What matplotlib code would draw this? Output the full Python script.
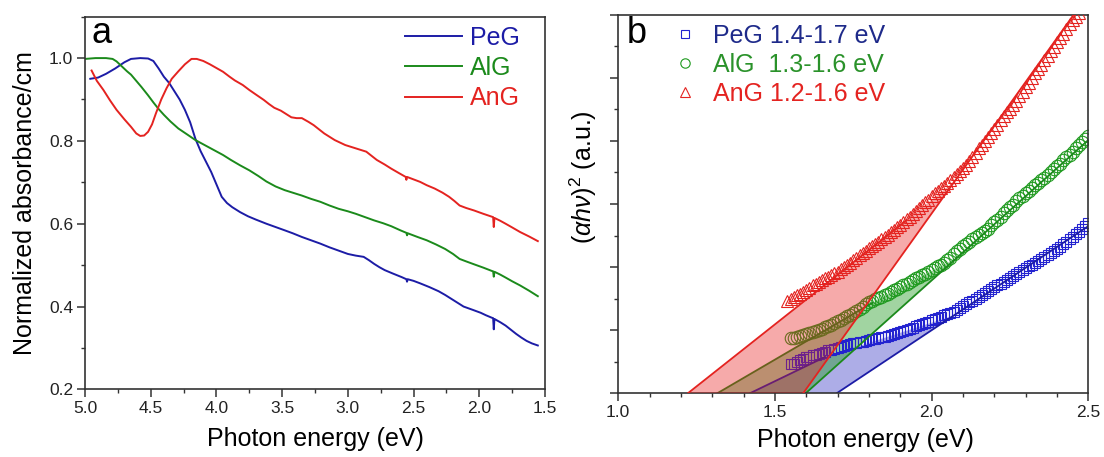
import numpy as np
import matplotlib
matplotlib.use("Agg")
import matplotlib.pyplot as plt
from matplotlib.ticker import MultipleLocator

plt.rcParams['font.family'] = ['Liberation Sans', 'DejaVu Sans']
plt.rcParams['mathtext.fontset'] = 'custom'
plt.rcParams['mathtext.rm'] = 'Liberation Sans'
plt.rcParams['mathtext.it'] = 'Liberation Sans:italic'

# ---------------- panel a: normalized absorbance ----------------
peg_e = [4.96, 4.90, 4.84, 4.77, 4.70, 4.65, 4.58, 4.52, 4.48, 4.44, 4.40, 4.36, 4.32, 4.28,
         4.24, 4.20, 4.16, 4.12, 4.08, 4.04, 4.00, 3.96, 3.92, 3.88, 3.82, 3.76, 3.70, 3.62,
         3.55, 3.48, 3.42, 3.35, 3.28, 3.21, 3.14, 3.07, 3.00, 2.94, 2.88, 2.84, 2.80, 2.76,
         2.72, 2.66, 2.59, 2.555, 2.55, 2.545, 2.50, 2.45, 2.38, 2.31, 2.26, 2.21, 2.17, 2.12,
         2.05, 1.99, 1.95, 1.905, 1.895, 1.89, 1.885, 1.84, 1.80, 1.76, 1.72, 1.68, 1.64, 1.60,
         1.555]
peg_a = [0.950, 0.953, 0.962, 0.975, 0.990, 0.998, 1.000, 0.999, 0.993, 0.975, 0.955, 0.940,
         0.920, 0.900, 0.875, 0.845, 0.805, 0.775, 0.750, 0.725, 0.695, 0.665, 0.650, 0.640,
         0.628, 0.618, 0.610, 0.600, 0.592, 0.584, 0.577, 0.568, 0.560, 0.552, 0.543, 0.535,
         0.527, 0.523, 0.520, 0.512, 0.503, 0.495, 0.488, 0.480, 0.471, 0.466, 0.460, 0.466,
         0.462, 0.456, 0.447, 0.437, 0.428, 0.418, 0.410, 0.400, 0.392, 0.385, 0.379, 0.373,
         0.372, 0.345, 0.370, 0.362, 0.354, 0.344, 0.334, 0.325, 0.317, 0.311, 0.306]

alg_e = [5.00, 4.92, 4.84, 4.79, 4.76, 4.72, 4.68, 4.65, 4.61, 4.57, 4.52, 4.48, 4.44, 4.40,
         4.35, 4.29, 4.22, 4.16, 4.09, 4.02, 3.95, 3.89, 3.82, 3.75, 3.68, 3.62, 3.55, 3.48,
         3.42, 3.35, 3.28, 3.21, 3.14, 3.07, 3.00, 2.94, 2.87, 2.80, 2.73, 2.67, 2.60, 2.555,
         2.55, 2.545, 2.47, 2.40, 2.33, 2.26, 2.20, 2.15, 2.10, 2.04, 1.97, 1.905, 1.895, 1.89,
         1.885, 1.84, 1.80, 1.75, 1.69, 1.62, 1.555]
alg_a = [0.998, 1.000, 1.000, 0.998, 0.992, 0.980, 0.968, 0.960, 0.945, 0.930, 0.910, 0.893,
         0.877, 0.863, 0.847, 0.830, 0.815, 0.802, 0.790, 0.778, 0.766, 0.754, 0.741, 0.729,
         0.715, 0.702, 0.690, 0.681, 0.675, 0.668, 0.660, 0.653, 0.644, 0.636, 0.630, 0.624,
         0.616, 0.608, 0.601, 0.594, 0.584, 0.578, 0.572, 0.577, 0.568, 0.560, 0.550, 0.539,
         0.527, 0.515, 0.509, 0.502, 0.494, 0.486, 0.485, 0.472, 0.484, 0.477, 0.470, 0.461,
         0.451, 0.438, 0.425]

ang_e = [4.95, 4.91, 4.86, 4.81, 4.76, 4.70, 4.65, 4.61, 4.58, 4.55, 4.52, 4.49, 4.46, 4.42,
         4.38, 4.34, 4.29, 4.24, 4.19, 4.15, 4.10, 4.05, 4.00, 3.95, 3.90, 3.86, 3.80, 3.75,
         3.70, 3.64, 3.60, 3.56, 3.51, 3.47, 3.43, 3.39, 3.35, 3.30, 3.26, 3.22, 3.18, 3.14,
         3.10, 3.06, 3.02, 2.98, 2.94, 2.90, 2.86, 2.82, 2.78, 2.72, 2.67, 2.61, 2.56, 2.555,
         2.55, 2.50, 2.45, 2.40, 2.34, 2.28, 2.23, 2.19, 2.15, 2.10, 2.04, 1.97, 1.905, 1.895,
         1.89, 1.885, 1.84, 1.80, 1.75, 1.69, 1.62, 1.555]
ang_a = [0.970, 0.945, 0.923, 0.898, 0.875, 0.852, 0.834, 0.818, 0.812, 0.813, 0.822, 0.840,
         0.867, 0.900, 0.927, 0.950, 0.968, 0.985, 0.998, 0.998, 0.993, 0.985, 0.976, 0.967,
         0.955, 0.946, 0.935, 0.923, 0.912, 0.899, 0.889, 0.880, 0.873, 0.865, 0.857, 0.855,
         0.855, 0.846, 0.838, 0.828, 0.818, 0.810, 0.802, 0.796, 0.790, 0.786, 0.782, 0.778,
         0.774, 0.764, 0.754, 0.743, 0.733, 0.722, 0.713, 0.706, 0.713, 0.707, 0.701, 0.693,
         0.685, 0.675, 0.665, 0.655, 0.644, 0.638, 0.632, 0.624, 0.617, 0.616, 0.592, 0.614,
         0.607, 0.600, 0.591, 0.580, 0.569, 0.558]

# ---------------- panel b: Tauc plot ----------------
red_x = np.round(np.arange(1.54, 2.475, 0.01), 2)
red_y = [1.47, 1.50, 1.53, 1.55, 1.58, 1.61, 1.64, 1.67, 1.71, 1.74, 1.77, 1.80, 1.82, 1.85,
         1.88, 1.90, 1.93, 1.97, 2.00, 2.04, 2.07, 2.11, 2.15, 2.19, 2.22, 2.26, 2.30, 2.33,
         2.37, 2.40, 2.44, 2.47, 2.51, 2.55, 2.59, 2.63, 2.67, 2.71, 2.76, 2.80, 2.84, 2.89,
         2.93, 2.98, 3.03, 3.07, 3.12, 3.17, 3.21, 3.25, 3.29, 3.34, 3.38, 3.43, 3.48, 3.52,
         3.57, 3.62, 3.68, 3.75, 3.81, 3.88, 3.94, 4.00, 4.06, 4.12, 4.19, 4.26, 4.33, 4.40,
         4.46, 4.51, 4.57, 4.64, 4.71, 4.78, 4.85, 4.92, 4.99, 5.07, 5.14, 5.21, 5.28, 5.35,
         5.42, 5.49, 5.56, 5.63, 5.70, 5.78, 5.85, 5.91, 5.97, 6.03]

grn_x = np.round(np.arange(1.55, 2.505, 0.01), 2)
grn_y = [0.87, 0.88, 0.89, 0.905, 0.92, 0.935, 0.95, 0.965, 0.98, 1.00, 1.02, 1.045, 1.07,
         1.09, 1.115, 1.14, 1.165, 1.19, 1.22, 1.245, 1.27, 1.30, 1.34, 1.37, 1.41, 1.44, 1.47,
         1.49, 1.51, 1.53, 1.55, 1.57, 1.60, 1.63, 1.66, 1.68, 1.71, 1.74, 1.77, 1.79, 1.82,
         1.84, 1.87, 1.89, 1.92, 1.95, 1.98, 2.01, 2.04, 2.07, 2.11, 2.15, 2.20, 2.25, 2.29,
         2.33, 2.37, 2.40, 2.44, 2.47, 2.51, 2.54, 2.58, 2.61, 2.66, 2.71, 2.75, 2.80, 2.85,
         2.90, 2.95, 2.99, 3.04, 3.09, 3.13, 3.17, 3.21, 3.26, 3.30, 3.34, 3.38, 3.42, 3.46,
         3.51, 3.55, 3.60, 3.64, 3.69, 3.74, 3.78, 3.83, 3.88, 3.93, 3.98, 4.03, 4.08]

blu_x = np.round(np.arange(1.55, 2.505, 0.01), 2)
blu_y = [0.46, 0.47, 0.49, 0.52, 0.55, 0.57, 0.58, 0.60, 0.61, 0.63, 0.645, 0.66, 0.68, 0.69,
         0.70, 0.715, 0.73, 0.745, 0.76, 0.775, 0.79, 0.80, 0.81, 0.82, 0.835, 0.845, 0.855,
         0.865, 0.875, 0.885, 0.895, 0.905, 0.92, 0.935, 0.95, 0.965, 0.98, 1.00, 1.02, 1.04,
         1.06, 1.075, 1.095, 1.115, 1.135, 1.155, 1.175, 1.195, 1.215, 1.235, 1.255, 1.275,
         1.295, 1.32, 1.35, 1.38, 1.41, 1.44, 1.47, 1.50, 1.53, 1.56, 1.59, 1.62, 1.65, 1.68,
         1.71, 1.74, 1.77, 1.80, 1.83, 1.86, 1.89, 1.92, 1.95, 1.98, 2.01, 2.04, 2.07, 2.10,
         2.13, 2.16, 2.19, 2.22, 2.25, 2.29, 2.32, 2.36, 2.40, 2.44, 2.48, 2.52, 2.56, 2.60,
         2.65, 2.70]

# linear fits: (intercept, slope, end of fitted segment)
red_fit_lo = (1.222, 3.93, 1.92)
red_fit_hi = (1.590, 6.95, 2.455)
grn_fit_lo = (1.316, 2.90, 1.81)
grn_fit_hi = (1.598, 4.45, 2.50)
blu_fit_lo = (1.420, 2.40, 1.66)
blu_fit_hi = (1.697, 3.30, 2.50)
red_meet, grn_meet, blu_meet = 2.075, 2.08, 2.07

c_blue = '#1c1ca6'
c_green = '#1b8a1b'
c_red = '#e42320'
c_mblue = '#2323d0'
c_mgreen = '#1f9a1f'

fig = plt.figure(figsize=(11.04, 4.57), dpi=100)
ax1 = fig.add_axes([0.077, 0.148, 0.4167, 0.8155])
ax2 = fig.add_axes([0.560, 0.1394, 0.4258, 0.8284])

for ax in (ax1, ax2):
    for sp in ax.spines.values():
        sp.set_linewidth(1.2)
        sp.set_color('#333333')
    ax.tick_params(which='major', direction='out', length=5.5, width=1.1, color='#333333',
                   labelsize=12.5, pad=3, top=False, right=False, labelcolor='#222222')
    ax.tick_params(which='minor', direction='out', length=3, width=1.0, color='#333333',
                   top=False, right=False)

ax1.plot(peg_e, peg_a, color=c_blue, lw=1.4, label='PeG')
ax1.plot(alg_e, alg_a, color=c_green, lw=1.4, label='AlG')
ax1.plot(ang_e, ang_a, color=c_red, lw=1.4, label='AnG')
ax1.set_xlim(5.0, 1.5)
ax1.set_ylim(0.2, 1.1)
ax1.xaxis.set_major_locator(MultipleLocator(0.5))
ax1.xaxis.set_minor_locator(MultipleLocator(0.25))
ax1.yaxis.set_major_locator(MultipleLocator(0.2))
ax1.yaxis.set_minor_locator(MultipleLocator(0.1))
ax1.set_xlabel('Photon energy (eV)', fontsize=18)
ax1.set_ylabel('Normalized absorbance/cm', fontsize=18)
ax1.xaxis.set_label_coords(0.5, -0.1)
ax1.yaxis.set_label_coords(-0.105, 0.5)
leg1 = ax1.legend(loc='upper left', bbox_to_anchor=(0.695, 0.975), frameon=False, fontsize=18,
                  handlelength=2.3, handletextpad=0.3, labelspacing=0.25, borderpad=0,
                  borderaxespad=0)
for t, c in zip(leg1.get_texts(), [c_blue, c_green, c_red]):
    t.set_color(c)
ax1.text(0.015, 0.929, 'a', transform=ax1.transAxes, fontsize=26, va='baseline')

# panel b
def fit_line(fit):
    e0, s, x_end = fit
    return [e0, x_end], [0.0, s * (x_end - e0)]

def fill_poly(lo, hi, meet):
    e1, s1, x1 = lo
    e2, s2, _ = hi
    xs = [e1, x1, meet, e2]
    ys = [0.0, s1 * (x1 - e1), s2 * (meet - e2), 0.0]
    return xs, ys

for lo, hi, meet, col, a, z in [(blu_fit_lo, blu_fit_hi, blu_meet, '#2828c0', 0.38, 1),
                                (grn_fit_lo, grn_fit_hi, grn_meet, '#1f9a1f', 0.42, 1.2)]:
    px, py = fill_poly(lo, hi, meet)
    ax2.fill(px, py, color=col, alpha=a, lw=0, zorder=z)

ax2.plot(blu_x, blu_y, ls='none', marker='s', ms=7.5, mfc='none', mec=c_mblue, mew=0.8,
         zorder=2, label='PeG 1.4-1.7 eV')
ax2.plot(grn_x, grn_y, ls='none', marker='o', ms=9, mfc='none', mec=c_mgreen, mew=0.8,
         zorder=2, label='AlG  1.3-1.6 eV')
for fit, col in [(blu_fit_lo, c_blue), (blu_fit_hi, c_blue), (grn_fit_lo, c_green),
                 (grn_fit_hi, c_green)]:
    lx, ly = fit_line(fit)
    ax2.plot(lx, ly, color=col, lw=1.3, zorder=2.5)

px, py = fill_poly(red_fit_lo, red_fit_hi, red_meet)
ax2.fill(px, py, color='#e82020', alpha=0.38, lw=0, zorder=3)
ax2.plot(red_x, red_y, ls='none', marker='^', ms=9, mfc='none', mec=c_red, mew=0.8,
         zorder=4, label='AnG 1.2-1.6 eV')
for fit in (red_fit_lo, red_fit_hi):
    lx, ly = fit_line(fit)
    ax2.plot(lx, ly, color=c_red, lw=1.3, zorder=4)

ax2.set_xlim(1.0, 2.5)
ax2.set_ylim(0, 6)
ax2.xaxis.set_major_locator(MultipleLocator(0.5))
ax2.xaxis.set_minor_locator(MultipleLocator(0.1))
ax2.yaxis.set_major_locator(MultipleLocator(1))
ax2.yaxis.set_minor_locator(MultipleLocator(0.5))
ax2.tick_params(labelleft=False)
ax2.set_xlabel('Photon energy (eV)', fontsize=18)
ax2.set_ylabel(r'$(\alpha h\nu)^2$ (a.u.)', fontsize=18)
ax2.xaxis.set_label_coords(0.525, -0.092)
ax2.yaxis.set_label_coords(-0.04, 0.57)
leg2 = ax2.legend(loc='upper left', bbox_to_anchor=(0.116, 0.975), frameon=False, fontsize=18,
                  handlelength=1.0, handletextpad=0.6, labelspacing=0.2, borderpad=0,
                  borderaxespad=0, numpoints=1, markerscale=0.75)
for t, c in zip(leg2.get_texts(), ['#1e2a8a', '#2a922a', c_red]):
    t.set_color(c)
ax2.text(0.0185, 0.926, 'b', transform=ax2.transAxes, fontsize=26, va='baseline')

fig.savefig('out.png', dpi=100)
